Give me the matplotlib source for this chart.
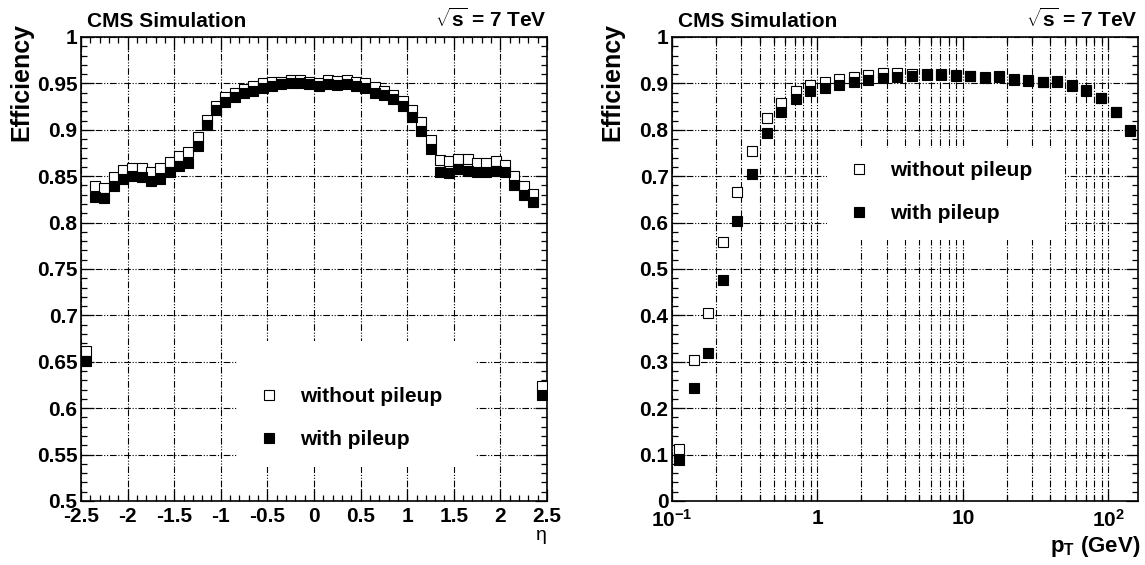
import numpy as np
import matplotlib
matplotlib.use("Agg")
import matplotlib.pyplot as plt
from matplotlib.patches import Rectangle
from matplotlib.ticker import FixedLocator, FuncFormatter, MultipleLocator, LogLocator, NullFormatter

# ---------------- data ----------------
eta_centers = np.round(np.arange(-2.45, 2.5, 0.1), 2)
eff_eta_nopu = [0.662, 0.839, 0.837, 0.849, 0.857, 0.859, 0.859, 0.855, 0.859, 0.865,
                0.872, 0.876, 0.892, 0.911, 0.926, 0.935, 0.940, 0.944, 0.947, 0.950,
                0.951, 0.952, 0.954, 0.954, 0.952, 0.950, 0.954, 0.953, 0.954, 0.952,
                0.950, 0.946, 0.942, 0.937, 0.931, 0.921, 0.908, 0.889, 0.867, 0.866,
                0.869, 0.869, 0.864, 0.864, 0.866, 0.862, 0.850, 0.839, 0.831, 0.624]
eff_eta_pu = [0.651, 0.828, 0.826, 0.839, 0.847, 0.850, 0.849, 0.845, 0.847, 0.854,
              0.861, 0.864, 0.883, 0.905, 0.921, 0.930, 0.935, 0.940, 0.942, 0.945,
              0.947, 0.949, 0.950, 0.950, 0.949, 0.947, 0.949, 0.948, 0.949, 0.947,
              0.945, 0.940, 0.937, 0.933, 0.926, 0.914, 0.899, 0.879, 0.854, 0.853,
              0.858, 0.856, 0.855, 0.855, 0.856, 0.854, 0.841, 0.830, 0.822, 0.614]

pt_log_centers = np.round(np.arange(-0.95, 2.2, 0.1), 2)   # log10(pT) bin centres
pt_centers = 10.0 ** pt_log_centers
eff_pt_nopu = [0.113, 0.303, 0.405, 0.559, 0.667, 0.754, 0.825, 0.858, 0.883, 0.897,
               0.904, 0.910, 0.913, 0.919, 0.922, 0.923, 0.921, 0.921, 0.920, 0.918,
               0.917, 0.913, 0.915, 0.910, 0.907, 0.904, 0.905, 0.897, 0.885, 0.869,
               0.839, 0.800]
eff_pt_pu = [0.089, 0.243, 0.318, 0.476, 0.604, 0.705, 0.793, 0.839, 0.867, 0.883,
             0.890, 0.897, 0.903, 0.908, 0.912, 0.913, 0.917, 0.919, 0.919, 0.915,
             0.915, 0.912, 0.913, 0.908, 0.906, 0.903, 0.904, 0.895, 0.883, 0.868,
             0.838, 0.798]

eta_ticks = [-2.5, -2, -1.5, -1, -0.5, 0, 0.5, 1, 1.5, 2, 2.5]
eff_ticks_left = [0.5, 0.55, 0.6, 0.65, 0.7, 0.75, 0.8, 0.85, 0.9, 0.95, 1.0]
eff_ticks_right = [0, 0.1, 0.2, 0.3, 0.4, 0.5, 0.6, 0.7, 0.8, 0.9, 1.0]
pt_ticks = [0.1, 1, 10, 100]
pt_tick_labels = [r'$10^{-1}$', '1', '10', r'$10^{2}$']

labels = ['without pileup', 'with pileup']

# ---------------- style ----------------
plt.rcParams['font.family'] = ['Liberation Sans', 'DejaVu Sans']
plt.rcParams['font.weight'] = 'bold'
plt.rcParams['mathtext.fontset'] = 'custom'
plt.rcParams['mathtext.rm'] = 'Liberation Sans:bold'
plt.rcParams['mathtext.it'] = 'Liberation Sans:bold'
plt.rcParams['mathtext.bf'] = 'Liberation Sans:bold'

W, H = 1145, 565
fig = plt.figure(figsize=(W / 100, H / 100), dpi=100)
fig.patch.set_facecolor('white')

def axes_px(x0, y0, x1, y1):
    return fig.add_axes([x0 / W, (H - y1) / H, (x1 - x0) / W, (y1 - y0) / H])

ax1 = axes_px(81, 37, 547, 501)
ax2 = axes_px(672, 37, 1138, 501)

gls = (0, (6, 1.6, 1, 1.6, 1, 1.6))
ms = 6.9
mew = 0.8
tick_fs = 15
title_fs = 15
leg_fs = 15
ylab_fs = 18

def style_axes(ax):
    for s in ax.spines.values():
        s.set_linewidth(1.2)
    ax.tick_params(which='both', direction='in', top=True, right=True,
                   labelsize=tick_fs, pad=2.5, width=0.9)
    ax.tick_params(which='major', length=9)
    ax.tick_params(which='minor', length=4.5)
    ax.tick_params(axis='x', which='major', pad=4)
    for lab in ax.get_xticklabels() + ax.get_yticklabels():
        lab.set_fontweight('bold')

fmt = FuncFormatter(lambda v, p: '%g' % v)

def titles(ax):
    ax.text(0.013, 1.0216, 'CMS Simulation', transform=ax.transAxes, ha='left',
            va='baseline', fontsize=title_fs, fontweight='bold')
    ax.text(1.0, 1.0216, r'$\sqrt{s}$ = 7 TeV', transform=ax.transAxes, ha='right',
            va='baseline', fontsize=title_fs, fontweight='bold')

def legend(ax, x, yc):
    leg = ax.legend(loc='center left', bbox_to_anchor=(x, yc), frameon=False,
                    fontsize=leg_fs, handlelength=0.8, handletextpad=1.1,
                    labelspacing=1.16, borderpad=0.0, markerscale=1.1)
    for t in leg.get_texts():
        t.set_fontweight('bold')
    leg.set_zorder(6)

def ylabel(ax):
    ax.set_ylabel('Efficiency', fontsize=ylab_fs, fontweight='bold')
    ax.yaxis.set_label_coords(-0.102, 1.03)
    ax.yaxis.label.set_horizontalalignment('right')

# ---------------- left panel ----------------
ax1.plot(eta_centers, eff_eta_nopu, ls='none', marker='s', ms=ms, mfc='white',
         mec='black', mew=mew, zorder=3, label=labels[0])
ax1.plot(eta_centers, eff_eta_pu, ls='none', marker='s', ms=ms, mfc='black',
         mec='black', mew=mew, zorder=4, label=labels[1])
ax1.set_xlim(-2.5, 2.5)
ax1.set_ylim(0.5, 1.0)
ax1.xaxis.set_major_locator(FixedLocator(eta_ticks))
ax1.xaxis.set_minor_locator(MultipleLocator(0.1))
ax1.yaxis.set_major_locator(FixedLocator(eff_ticks_left))
ax1.yaxis.set_minor_locator(MultipleLocator(0.01))
ax1.xaxis.set_major_formatter(fmt)
ax1.yaxis.set_major_formatter(fmt)
ax1.grid(True, which='major', color='black', lw=0.8, ls=gls)
style_axes(ax1)
ax1.add_patch(Rectangle((0.335, 0.073), 0.51, 0.272, transform=ax1.transAxes,
                        facecolor='white', edgecolor='none', zorder=2))
legend(ax1, 0.363, 0.178)
ylabel(ax1)
ax1.text(0.987, -0.055, 'η', transform=ax1.transAxes, ha='center', va='top',
         fontsize=14, fontweight='normal')
titles(ax1)

# ---------------- right panel ----------------
ax2.plot(pt_centers, eff_pt_nopu, ls='none', marker='s', ms=ms, mfc='white',
         mec='black', mew=mew, zorder=3, label=labels[0])
ax2.plot(pt_centers, eff_pt_pu, ls='none', marker='s', ms=ms, mfc='black',
         mec='black', mew=mew, zorder=4, label=labels[1])
ax2.set_xscale('log')
ax2.set_xlim(0.1, 160)
ax2.set_ylim(0.0, 1.0)
ax2.set_xticks(pt_ticks)
ax2.set_xticklabels(pt_tick_labels)
ax2.xaxis.set_minor_locator(LogLocator(base=10, subs=np.arange(2, 10)))
ax2.xaxis.set_minor_formatter(NullFormatter())
ax2.yaxis.set_major_locator(FixedLocator(eff_ticks_right))
ax2.yaxis.set_minor_locator(MultipleLocator(0.02))
ax2.yaxis.set_major_formatter(fmt)
ax2.xaxis.grid(True, which='both', color='black', lw=0.8, ls=gls)
ax2.yaxis.grid(True, which='major', color='black', lw=0.8, ls=gls)
style_axes(ax2)
ax2.tick_params(axis='x', which='major', pad=6)
ax2.add_patch(Rectangle((0.333, 0.5625), 0.51, 0.1985, transform=ax2.transAxes,
                        facecolor='white', edgecolor='none', zorder=2))
legend(ax2, 0.361, 0.666)
ylabel(ax2)
ax2.text(1.005, -0.072, r'$\mathrm{p_T}$ (GeV)', transform=ax2.transAxes,
         ha='right', va='top', fontsize=16, fontweight='bold')
titles(ax2)

fig.savefig('out.png', dpi=100, facecolor='white')
